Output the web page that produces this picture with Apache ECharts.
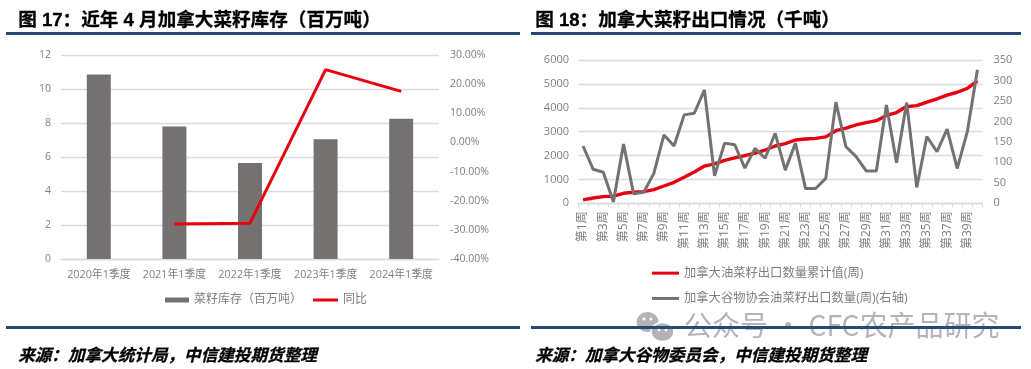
<!DOCTYPE html>
<html><head><meta charset="utf-8">
<style>html,body{margin:0;padding:0;background:#fff}#c{width:1031px;height:369px}</style>
<script src="https://cdn.jsdelivr.net/npm/echarts@6/dist/echarts.min.js"></script>
</head><body><div id="c"></div>
<script>
const stockCategories = ['2020年1季度','2021年1季度','2022年1季度','2023年1季度','2024年1季度'];
const stockValues = [10.85, 7.8, 5.65, 7.05, 8.25];
const stockYoY = [null, -28, -27.7, 25, 17.5];
const weeks = [];
for (let i = 1; i <= 40; i++) weeks.push('第' + i + '周');
const cumulativeExports = [140,223,280,300,420,460,490,570,725,880,1090,1310,1560,1650,1800,1900,2000,2100,2230,2400,2500,2650,2690,2720,2780,3040,3150,3280,3380,3460,3680,3800,4050,4090,4240,4370,4530,4650,4810,5130];
const weeklyExports = [140,83,76,3,145,23,27,73,167,140,216,220,277,67,147,143,86,134,110,171,81,147,36,36,61,247,138,114,79,79,240,99,246,39,163,126,181,85,175,326];

const RED = '#e9000e', GREY = '#767171', TXT = '#7f7f7f', GRID = '#dcdcdc', NAVY = '#264a77', MARK = '#b4b4b4';
const FF = '"Liberation Sans","Noto Sans CJK SC",sans-serif';
const LF = '"Open Sans","Noto Sans CJK SC",sans-serif';
const chart = echarts.init(document.getElementById('c'), null, {renderer:'canvas'});

function heading(x, y, s, size, italic){
  return {type:'text', left:x, top:y, silent:true, z:70, style:{text:s, fill:'#000', stroke:'#000', lineWidth:0.3, font:(italic?'italic ':'')+'bold '+size+'px '+FF}};
}
function rule(x1, x2, y){
  return {type:'rect', z:60, shape:{x:x1,y:y,width:x2-x1,height:3}, style:{fill:NAVY}, silent:true};
}
function bubble(cx, cy, rx, ry, edge){
  return {type:'ellipse', z:50, silent:true, shape:{cx:cx,cy:cy,rx:rx,ry:ry}, style:edge?{fill:MARK,stroke:'#fff',lineWidth:1.5}:{fill:MARK}};
}
function eye(cx, cy, r){
  return {type:'circle', z:51, silent:true, shape:{cx:cx,cy:cy,r:r}, style:{fill:'#fff'}};
}
const axisText = {color:TXT, fontSize:10.8, fontFamily:LF};

chart.setOption({
  animation:false,
  backgroundColor:'#fff',
  grid:[
    {left:61, width:378, top:55, height:204},
    {left:578, width:404.5, top:60, height:143.3}
  ],
  legend:[
    {left:165, top:294, padding:0, itemWidth:24, itemHeight:5, textStyle:{color:TXT,fontSize:12,fontFamily:LF},
     data:[{name:'菜籽库存（百万吨）',icon:'rect'}]},
    {left:313, top:294, padding:0, itemWidth:25, itemHeight:3, textStyle:{color:TXT,fontSize:12,fontFamily:LF},
     data:[{name:'同比',icon:'rect',itemStyle:{color:RED}}]},
    {left:652, top:267, padding:0, orient:'vertical', itemWidth:27, itemHeight:3, itemGap:13, textStyle:{color:TXT,fontSize:12.3,fontFamily:LF},
     data:[{name:'加拿大油菜籽出口数量累计值(周)',icon:'rect',itemStyle:{color:RED}},{name:'加拿大谷物协会油菜籽出口数量(周)(右轴)',icon:'rect',itemStyle:{color:GREY}}]}
  ],
  xAxis:[
    {type:'category', gridIndex:0, data:stockCategories,
     axisLine:{lineStyle:{color:GRID,width:1.3}}, axisTick:{show:false},
     axisLabel:{...axisText, margin:11, interval:0}},
    {type:'category', gridIndex:1, data:weeks,
     axisLine:{lineStyle:{color:GRID,width:1.3}}, axisTick:{show:true, alignWithLabel:false, length:4, interval:0, lineStyle:{color:GRID}},
     axisLabel:{...axisText, fontSize:12, rotate:90, interval:1, margin:8}}
  ],
  yAxis:[
    {type:'value', gridIndex:0, min:0, max:12, interval:2,
     axisLine:{show:false}, axisTick:{show:false}, splitLine:{lineStyle:{color:GRID,width:1.3}},
     axisLabel:{...axisText, fontSize:10.5, margin:10}},
    {type:'value', gridIndex:0, position:'right', min:-40, max:30, interval:10,
     axisLine:{show:false}, axisTick:{show:false}, splitLine:{show:false},
     axisLabel:{...axisText, fontSize:10.5, margin:11, formatter:v=>v.toFixed(2)+'%'}},
    {type:'value', gridIndex:1, min:0, max:6000, interval:1000,
     axisLine:{show:false}, axisTick:{show:false}, splitLine:{lineStyle:{color:GRID,width:1.3}},
     axisLabel:{...axisText, fontSize:11, margin:9, formatter:v=>String(v)}},
    {type:'value', gridIndex:1, position:'right', min:0, max:350, interval:50,
     axisLine:{show:false}, axisTick:{show:false}, splitLine:{show:false},
     axisLabel:{...axisText, fontSize:11, margin:11}}
  ],
  series:[
    {name:'菜籽库存（百万吨）', type:'bar', xAxisIndex:0, yAxisIndex:0, data:stockValues, barWidth:24, itemStyle:{color:GREY}},
    {name:'同比', type:'line', xAxisIndex:0, yAxisIndex:1, data:stockYoY, showSymbol:false, symbol:'none', lineStyle:{color:RED,width:3}, itemStyle:{color:RED}},
    {name:'加拿大油菜籽出口数量累计值(周)', type:'line', xAxisIndex:1, yAxisIndex:2, data:cumulativeExports, symbol:'none', z:2, lineStyle:{color:RED,width:3.4}, itemStyle:{color:RED}},
    {name:'加拿大谷物协会油菜籽出口数量(周)(右轴)', type:'line', xAxisIndex:1, yAxisIndex:3, data:weeklyExports, symbol:'none', z:3, lineStyle:{color:GREY,width:3}, itemStyle:{color:GREY}}
  ],
  graphic:[
    heading(18, 11, '图 17：近年 4 月加拿大菜籽库存（百万吨）', 18.6),
    heading(535, 11, '图 18：加拿大菜籽出口情况（千吨）', 18.6),
    rule(6, 520, 32), rule(531, 1021, 32),
    rule(6, 520, 326), rule(531, 1021, 326),
    heading(18, 348, '来源：加拿大统计局，中信建投期货整理', 16.6, true),
    heading(535, 348, '来源：加拿大谷物委员会，中信建投期货整理', 16.6, true),
    {type:'text', left:684, top:311, silent:true, z:50, style:{text:'公众号 · CFC农产品研究', fill:MARK, font:'28px "Noto Sans CJK SC",sans-serif'}},
    bubble(647.5, 322, 11, 10),
    bubble(662.5, 332, 11.5, 9.5, true),
    eye(644, 319, 1.6), eye(651, 319, 1.6),
    eye(659, 330, 1.4), eye(666, 330, 1.4)
  ]
});
</script></body></html>
